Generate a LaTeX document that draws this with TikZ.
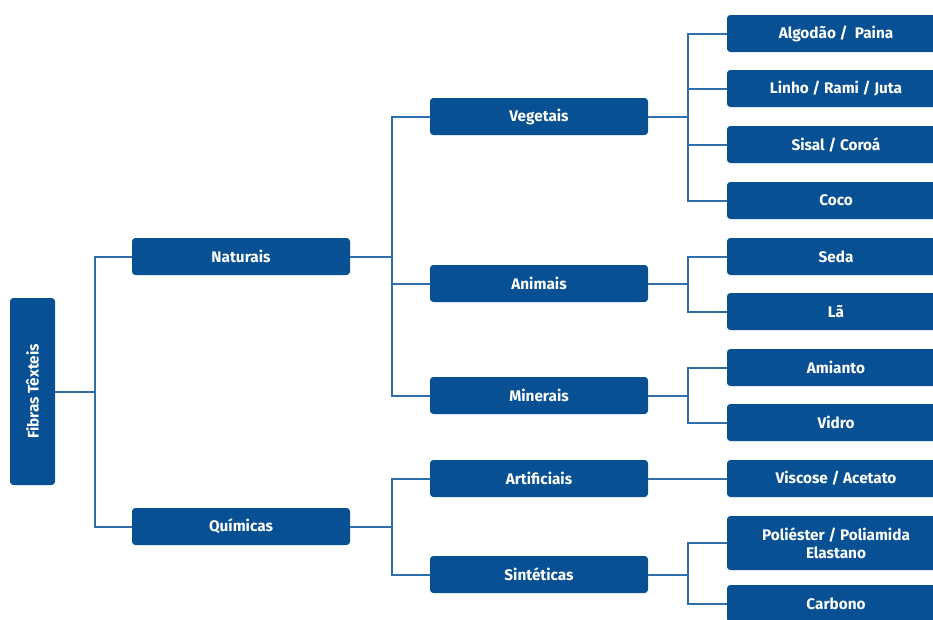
\documentclass[tikz,border=0pt]{standalone}
\usepackage{fontspec}
\setmainfont{Fira Sans}
\usetikzlibrary{positioning}
\definecolor{fibrablue}{RGB}{8,80,148}
\definecolor{linkblue}{RGB}{46,110,172}
\tikzset{box/.style={rectangle,rounded corners=2.5pt,fill=fibrablue,text=white,font=\bfseries\fontsize{11.5}{13.5}\selectfont,minimum width=163.5pt,minimum height=27.75pt,inner sep=2pt,align=center}}
\tikzset{link/.style={draw=linkblue,line width=1.5pt}}

\begin{document}
\begin{tikzpicture}[x=0.75pt,y=-0.75pt]
        \clip (0,0) rectangle (933,619);
        \useasboundingbox (0,0) rectangle (933,619);

        \node[box,rotate=90,minimum width=140.25pt,minimum height=33.75pt] (root) at (32.5,391.5) {Fibras Têxteis};

        \node[box] (nat) at (241,256.5) {Naturais};
        \node[box] (qui) at (241,526.5) {Químicas};

        \node[box] (veg) at (539,116.5) {Vegetais};
        \node[box] (ani) at (539,283.5) {Animais};
        \node[box] (min) at (539,395.5) {Minerais};
        \node[box] (art) at (539,478.5) {Artificiais};
        \node[box] (sin) at (539,574.5) {Sintéticas};

        \node[box] (alg) at (836,33.5) {Algodão /\ \ Paina};
        \node[box] (lin) at (836,88.5) {Linho / Rami / Juta};
        \node[box] (sis) at (836,144.5) {Sisal / Coroá};
        \node[box] (coc) at (836,200.5) {Coco};
        \node[box] (sed) at (836,256.5) {Seda};
        \node[box] (la) at (836,311.5) {Lã};
        \node[box] (ami) at (836,367.5) {Amianto};
        \node[box] (vid) at (836,422.5) {Vidro};
        \node[box] (vis) at (836,478.5) {Viscose / Acetato};
        \node[box,minimum height=40.5pt] (pol) at (836,543) {Poliéster / Poliamida\\Elastano};
        \node[box] (car) at (836,603.5) {Carbono};

        \draw[link] (root.south) -- ++(40,0);
        \draw[link] (nat.west) -- ++(-37,0) |- (qui.west);

        \draw[link] (nat.east) -- ++(42,0);
        \draw[link] (veg.west) -- ++(-38,0) |- (min.west);
        \draw[link] (ani.west) -- ++(-38,0);

        \draw[link] (qui.east) -- ++(42,0);
        \draw[link] (art.west) -- ++(-38,0) |- (sin.west);

        \draw[link] (veg.east) -- ++(40,0);
        \draw[link] (alg.west) -- ++(-39,0) |- (coc.west);
        \draw[link] (lin.west) -- ++(-39,0);
        \draw[link] (sis.west) -- ++(-39,0);

        \draw[link] (ani.east) -- ++(40,0);
        \draw[link] (sed.west) -- ++(-39,0) |- (la.west);

        \draw[link] (min.east) -- ++(40,0);
        \draw[link] (ami.west) -- ++(-39,0) |- (vid.west);

        \draw[link] (art.east) -- (vis.west);

        \draw[link] (sin.east) -- ++(40,0);
        \draw[link] (pol.west) -- ++(-39,0) |- (car.west);
    \end{tikzpicture}
\end{document}
